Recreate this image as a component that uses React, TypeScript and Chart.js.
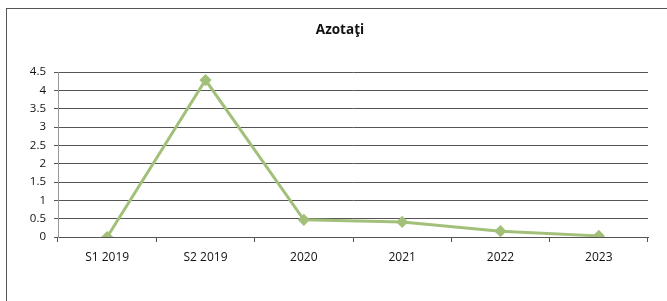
import React, { useEffect, useRef } from "react";
import { Chart, registerables } from "chart.js";

Chart.register(...registerables);

const categories = ["S1 2019", "S2 2019", "2020", "2021", "2022", "2023"];
const azotati = [0, 4.28, 0.47, 0.41, 0.16, 0.03];
const yTicks = [0, 0.5, 1, 1.5, 2, 2.5, 3, 3.5, 4, 4.5];
const chartTitle = "Azotaţi";

const FONT = "'Open Sans', 'Noto Sans', sans-serif";

export default function App() {
  const ref = useRef<HTMLCanvasElement | null>(null);

  useEffect(() => {
    document.body.style.margin = "0";
    const ctx = ref.current!;
    const chart = new Chart(ctx, {
      type: "line",
      data: {
        labels: categories,
        datasets: [
          {
            label: chartTitle,
            data: azotati,
            borderColor: "#a3c07a",
            backgroundColor: "#a3c07a",
            borderWidth: 3,
            pointStyle: "rectRot",
            pointRadius: 4,
            pointBackgroundColor: "#a3c07a",
            pointBorderColor: "#a3c07a",
            tension: 0,
          },
        ],
      },
      options: {
        responsive: false,
        animation: false,
        layout: { padding: { top: 72, left: 8, right: 19, bottom: 24 } },
        plugins: {
          legend: { display: false },
          tooltip: { enabled: false },
          title: { display: false },
        },
        scales: {
          x: {
            type: "category",
            offset: true,
            grid: {
              offset: true,
              drawOnChartArea: false,
              drawTicks: true,
              tickLength: 5,
              color: "#555",
            },
            border: { display: true, color: "#555", width: 1 },
            ticks: {
              color: "#111",
              padding: 8,
              maxRotation: 0,
              font: { family: FONT, size: 12 },
            },
            afterFit: (s: any) => {
              s.height = 40;
            },
          },
          y: {
            min: 0,
            max: 4.5,
            afterBuildTicks: (s: any) => {
              s.ticks = yTicks.map((v) => ({ value: v }));
            },
            grid: {
              color: "#555",
              lineWidth: 1,
              drawTicks: true,
              tickLength: 4,
            },
            border: { display: true, color: "#999", width: 1 },
            ticks: {
              color: "#111",
              padding: 8,
              font: { family: FONT, size: 11.5 },
              callback: (v: any) => String(v),
            },
            afterFit: (s: any) => {
              s.width = 50;
            },
          },
        },
      },
    });
    return () => chart.destroy();
  }, []);

  return (
    <div style={{ position: "relative", width: 667, height: 301, background: "#fff" }}>
      <div
        style={{
          position: "absolute",
          left: 6,
          top: 8,
          right: 0,
          bottom: 0,
          borderTop: "1px solid #555",
          borderLeft: "1px solid #555",
        }}
      />
      <canvas
        ref={ref}
        width={667}
        height={301}
        style={{ position: "absolute", left: 0, top: 0, width: 667, height: 301 }}
      />
      <div
        style={{
          position: "absolute",
          left: 280,
          width: 120,
          top: 19,
          textAlign: "center",
          fontFamily: FONT,
          fontWeight: "bold",
          fontSize: 13.5,
          lineHeight: "20px",
          color: "#111",
        }}
      >
        {chartTitle}
      </div>
    </div>
  );
}
